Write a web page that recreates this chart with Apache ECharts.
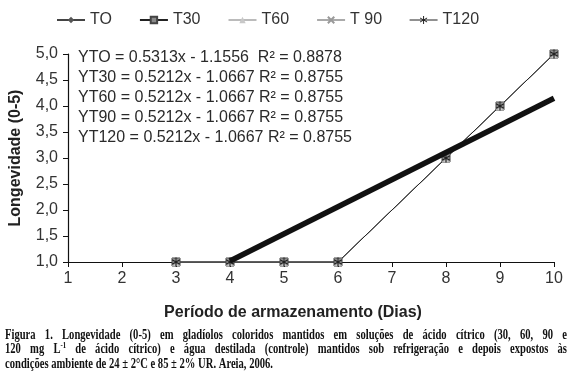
<!DOCTYPE html>
<html>
<head>
<meta charset="utf-8">
<script src="https://cdn.jsdelivr.net/npm/echarts@6/dist/echarts.min.js"></script>
<style>
  html, body { margin: 0; padding: 0; background: #fff; }
  #chart { width: 570px; height: 376px; }
</style>
</head>
<body>
<div id="chart"></div>
<script>
// days with observations and longevity score (all treatments coincide)
const days = [3, 4, 5, 6, 8, 9, 10]
const scoreTO = [1, 1, 1, 1, 3, 4, 5]
const scoreT30 = [1, 1, 1, 1, 3, 4, 5]
const scoreT60 = [1, 1, 1, 1, 3, 4, 5]
const scoreT90 = [1, 1, 1, 1, 3, 4, 5]
const scoreT120 = [1, 1, 1, 1, 3, 4, 5]
// fitted trend line end points
const trendX = [4, 10]
const trendY = [1.02, 4.15]
const seriesNames = ['TO', 'T30', 'T60', 'T90', 'T120']
const legendLabels = { TO: 'TO', T30: 'T30', T60: 'T60', T90: 'T 90', T120: 'T120' }
const equations = [
  'YTO = 0.5313x - 1.1556  R² = 0.8878',
  'YT30 = 0.5212x - 1.0667 R² = 0.8755',
  'YT60 = 0.5212x - 1.0667 R² = 0.8755',
  'YT90 = 0.5212x - 1.0667 R² = 0.8755',
  'YT120 = 0.5212x - 1.0667 R² = 0.8755',
]
const captionLines = [
  'Figura 1. Longevidade (0-5) em gladíolos coloridos mantidos em soluções de ácido cítrico (30, 60, 90 e',
  '120 mg L{sup|-1} de ácido cítrico) e água destilada (controle) mantidos sob refrigeração e depois expostos às',
  'condições ambiente de 24 ± 2°C e 85 ± 2% UR. Areia, 2006.',
]

const pairs = (xs, ys) => xs.map((x, i) => [x, ys[i]])

const chart = echarts.init(document.getElementById('chart'))
const font = 'Liberation Sans, Arial, sans-serif'
const capFont = 'bold 14px "Liberation Serif", "Times New Roman", serif'
const supFont = 'bold 9px "Liberation Serif", "Times New Roman", serif'

// caption layout: narrow glyphs, first two lines justified
const ctx = document.createElement('canvas').getContext('2d')
function measure(word) {
  let w = 0
  word.split(/(\{sup\|[^}]*\})/).forEach((part) => {
    if (!part) return
    const m = part.match(/^\{sup\|([^}]*)\}$/)
    ctx.font = m ? supFont : capFont
    w += ctx.measureText(m ? m[1] : part).width
  })
  return w
}
ctx.font = capFont
const capScale = 268 / ctx.measureText(captionLines[2]).width
const capLeft = 5
const capWidth = 562
const capTexts = []
captionLines.forEach((line, li) => {
  const y = 335 + li * 14.5
  const words = line.split(' ')
  const widths = words.map((w) => measure(w) * capScale)
  ctx.font = capFont
  const spaceW = ctx.measureText(' ').width * capScale
  const total = widths.reduce((a, b) => a + b, 0)
  const gap = li < 2 ? (capWidth - total) / (words.length - 1) : spaceW
  let x = capLeft
  words.forEach((w, i) => {
    capTexts.push({
      type: 'text',
      x,
      y,
      scaleX: capScale,
      style: {
        text: w,
        font: capFont,
        fill: '#111',
        verticalAlign: 'middle',
        rich: { sup: { font: supFont, fill: '#111', padding: [0, 0, 8, 0] } },
      },
    })
    x += widths[i] + gap
  })
})

const styles = {
  TO: { symbol: 'diamond', size: 8, item: { color: '#555' } },
  T30: { symbol: 'rect', size: 8, item: { color: '#8a8a8a', borderColor: '#444', borderWidth: 1 } },
  T60: { symbol: 'triangle', size: 8, item: { color: '#c8c8c8' } },
  T90: { symbol: 'path://M0,0L10,10M10,0L0,10', size: 7, item: { color: '#aaa', borderColor: '#999', borderWidth: 1.2 } },
  T120: { symbol: 'path://M5,0L5,10M0.7,2.5L9.3,7.5M0.7,7.5L9.3,2.5', size: 9, item: { color: '#222', borderColor: '#222', borderWidth: 1.2 } },
}
const lineColors = { TO: '#444', T30: '#222', T60: '#bbb', T90: '#aaa', T120: '#222' }
const dataByName = { TO: scoreTO, T30: scoreT30, T60: scoreT60, T90: scoreT90, T120: scoreT120 }

const series = seriesNames.map((n) => ({
  name: n,
  type: 'line',
  data: pairs(days, dataByName[n]),
  symbol: styles[n].symbol,
  symbolSize: styles[n].size,
  symbolKeepAspect: true,
  showAllSymbol: true,
  itemStyle: styles[n].item,
  lineStyle: { color: lineColors[n], width: 1 },
  z: 3,
}))
series.push({
  name: 'trend',
  type: 'line',
  data: pairs(trendX, trendY),
  symbol: 'none',
  lineStyle: { color: '#111', width: 5.5 },
  z: 4,
})

const legendData = seriesNames.map((n) =>
  n === 'T120'
    ? {
        name: n,
        icon: 'path://M0,4L28,4M14,0L14,8M10.5,2L17.5,6M10.5,6L17.5,2',
        itemStyle: { color: '#222', borderColor: '#222', borderWidth: 1 },
      }
    : { name: n }
)

chart.setOption({
  backgroundColor: '#fff',
  animation: false,
  legend: {
    data: legendData,
    top: 7,
    left: 51,
    itemWidth: 28,
    itemHeight: 8,
    itemGap: 27,
    formatter: (n) => legendLabels[n],
    textStyle: { fontFamily: font, fontSize: 16, color: '#333' },
  },
  grid: { left: 68, right: 16, top: 54, bottom: 114, containLabel: false, outerBoundsMode: 'none' },
  xAxis: {
    type: 'value',
    min: 1,
    max: 10,
    interval: 1,
    name: 'Período de armazenamento (Dias)',
    nameLocation: 'middle',
    nameGap: 43,
    nameTextStyle: { fontFamily: font, fontSize: 16, fontWeight: 'bold', color: '#222', padding: [0, 36, 0, 0] },
    axisLine: { lineStyle: { color: '#111', width: 1.2 } },
    axisTick: { length: 5, lineStyle: { color: '#111' } },
    axisLabel: { fontFamily: font, fontSize: 16, color: '#333', margin: 9 },
    splitLine: { show: false },
  },
  yAxis: {
    type: 'value',
    min: 1,
    max: 5,
    interval: 0.5,
    name: 'Longevidade (0-5)',
    nameLocation: 'middle',
    nameGap: 44,
    nameTextStyle: { fontFamily: font, fontSize: 16, fontWeight: 'bold', color: '#222' },
    axisLine: { show: true, lineStyle: { color: '#111', width: 1.2 } },
    axisTick: { show: true, length: 5, lineStyle: { color: '#111' } },
    axisLabel: {
      fontFamily: font,
      fontSize: 16,
      color: '#333',
      margin: 10,
      formatter: (v) => v.toFixed(1).replace('.', ','),
    },
    splitLine: { show: false },
  },
  graphic: [
    ...equations.map((t, i) => ({
      type: 'text',
      x: 78,
      y: 58 + i * 20,
      style: { text: t, font: '16px ' + font, fill: '#2a2a2a', verticalAlign: 'middle' },
    })),
    ...capTexts,
  ],
  series,
})
</script>
</body>
</html>
